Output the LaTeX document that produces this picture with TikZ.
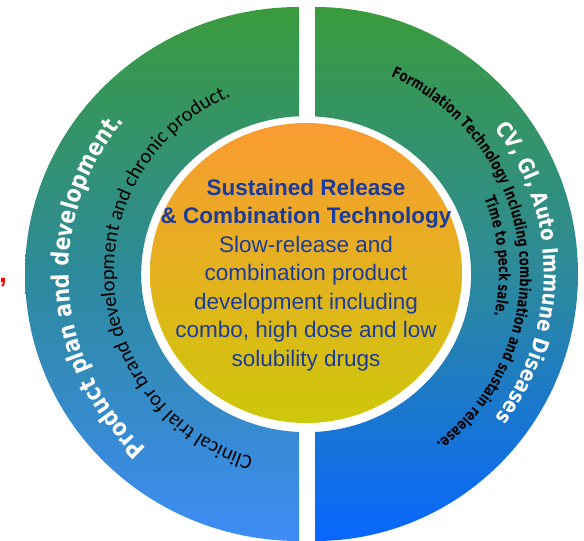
\documentclass[tikz,border=0pt]{standalone}
\usepackage{fontspec}
\setmainfont{Liberation Sans}
\newfontfamily\boldarc{DejaVu Sans}[FakeStretch=0.85]
\newfontfamily\heavyarc{DejaVu Sans}[FakeStretch=0.75]
\newfontfamily\thinarc{Carlito}
\usetikzlibrary{calc,decorations.text}

\newcommand\leftwhitefont{\boldarc\bfseries\fontsize{24}{26}\selectfont}
\newcommand\rightwhitefont{\boldarc\bfseries\fontsize{21.5}{23}\selectfont}
\newcommand\leftblackfont{\thinarc\fontsize{20.5}{22}\selectfont}
\newcommand\rightblackfont{\heavyarc\bfseries\fontsize{15.5}{17}\selectfont}

\definecolor{ringgreen}{RGB}{58,155,60}
\definecolor{ringteal}{RGB}{45,138,155}
\definecolor{leftblue}{RGB}{62,140,246}
\definecolor{rightblue}{RGB}{8,102,255}
\definecolor{coreorange}{RGB}{250,155,50}
\definecolor{coreolive}{RGB}{205,200,10}
\definecolor{coretext}{RGB}{28,60,155}

\begin{document}
\begin{tikzpicture}[x=1pt, y=1pt,
    halfring/.style={top color=ringgreen, bottom color=#1, middle color=ringteal}]
    \useasboundingbox (0,0) rectangle (584,541);
    \clip (0,0) rectangle (584,541);

    \coordinate (core) at (306,268);

    \shade[halfring=leftblue] (299,534) arc[start angle=90, end angle=270, x radius=274, y radius=267]
        -- (299,109) arc[start angle=267.5, end angle=92.5, x radius=165, y radius=158] -- cycle;
    \shade[halfring=rightblue] (315,534) arc[start angle=90, end angle=-90, x radius=263, y radius=267]
        -- (315,109) arc[start angle=-86.9, end angle=86.9, x radius=165, y radius=158] -- cycle;
    \shade[top color=coreorange, bottom color=coreolive] (core) ellipse[x radius=156, y radius=150];

    \node[align=center, text=coretext, font=\fontsize{22.5}{28.5}\selectfont] (title) at ([yshift=-2]core)
        {\textbf{Sustained Release}\\ \textbf{\& Combination Technology}\\ Slow-release and\\
         combination product\\ development including\\ combo, high dose and low\\ solubility drugs};

    \path[decorate, decoration={text along path, text align=center, text color=white,
        text={|\leftwhitefont|Product plan and development.}}]
        ($(core)+(228:237)$) arc[start angle=228, end angle=140, radius=237];
    \path[decorate, decoration={text along path, text align=center,
        text={|\leftblackfont|Clinical trial for brand development and chronic product.}}]
        ($(core)+(255:192)$) arc[start angle=255, end angle=112, radius=192];
    \path[decorate, decoration={text along path, text align=center, text color=white,
        text={|\rightwhitefont|CV, GI, Auto Immune Diseases}}]
        ($(core)+(37:238)$) arc[start angle=37, end angle=-37, radius=238];
    \path[decorate, decoration={text along path, text align=center,
        text={|\rightblackfont|Formulation Technology Including combination and sustain release.}}]
        ($(core)+(67:214)$) arc[start angle=67, end angle=-53, radius=214];
    \path[decorate, decoration={text along path, text align=center,
        text={|\rightblackfont|Time to peck sale.}}]
        ($(core)+(23:193)$) arc[start angle=23, end angle=-13, radius=193];

    \node[text=red, font=\bfseries\fontsize{28}{28}\selectfont, anchor=base west, inner sep=0pt] (mark) at (-1,258) {,};
\end{tikzpicture}
\end{document}
